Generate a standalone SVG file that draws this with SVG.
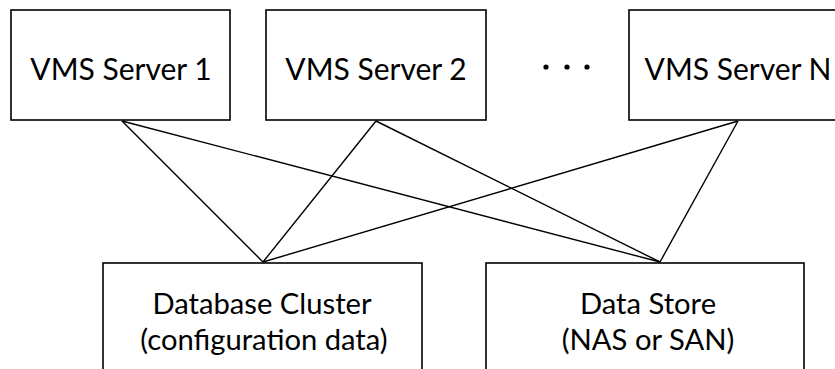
<svg xmlns="http://www.w3.org/2000/svg" width="835" height="369" viewBox="0 0 835 369">
<style>
.box{fill:#fff;stroke:#000;stroke-width:1.6}
.lbl{font-family:Lato,"Open Sans",sans-serif;font-size:30px;fill:#000;text-anchor:middle}
.sm{font-size:29.2px}
.conn line{stroke:#000;stroke-width:1.4}
</style>
<rect width="835" height="369" fill="#fff"/>
<g id="connectors" class="conn">
<line x1="122" y1="121" x2="263" y2="262"/>
<line x1="122" y1="121" x2="660" y2="262"/>
<line x1="376" y1="121" x2="263" y2="262"/>
<line x1="376" y1="121" x2="660" y2="262"/>
<line x1="738" y1="121" x2="263" y2="262"/>
<line x1="738" y1="121" x2="660" y2="262"/>
</g>
<g id="server1"><rect class="box" x="11" y="10" width="219" height="110"/><text class="lbl" x="121" y="80">VMS Server 1</text></g>
<g id="server2"><rect class="box" x="266" y="10" width="220" height="110"/><text class="lbl" x="376" y="80">VMS Server 2</text></g>
<g id="ellipsis"><circle cx="546" cy="67" r="2.6"/><circle cx="567" cy="67" r="2.6"/><circle cx="587" cy="67" r="2.6"/></g>
<g id="serverN"><rect class="box" x="629" y="10" width="219" height="110"/><text class="lbl" x="738" y="80">VMS Server N</text></g>
<g id="database"><rect class="box" x="103" y="263" width="319" height="120"/><text class="lbl sm" x="262" y="314">Database Cluster</text><text class="lbl sm" x="264" y="350">(configuration data)</text></g>
<g id="datastore"><rect class="box" x="486" y="263" width="318" height="120"/><text class="lbl sm" x="648" y="314">Data Store</text><text class="lbl sm" x="648" y="350">(NAS or SAN)</text></g>
</svg>
